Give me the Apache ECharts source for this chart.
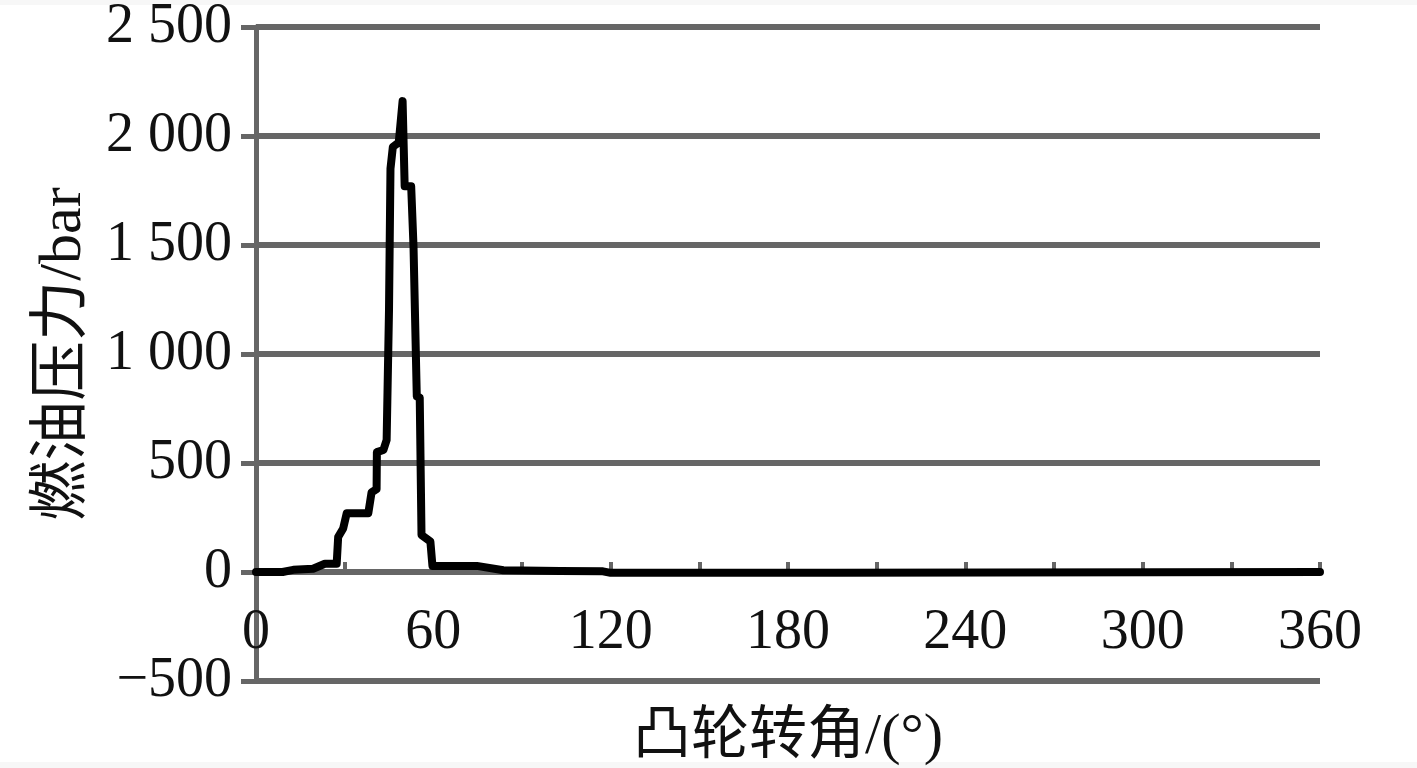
<!DOCTYPE html>
<html>
<head>
<meta charset="utf-8">
<script src="https://cdn.jsdelivr.net/npm/echarts@6/dist/echarts.min.js"></script>
<style>
html,body{margin:0;padding:0;background:#fff;}
#c{width:1417px;height:768px;}
</style>
</head>
<body>
<div id="c"></div>
<script>
// Cam angle (deg)
var camAngle = [0, 9, 12.6, 19.3, 23.3, 27.3, 27.8, 29.5, 30.7, 38.0, 39.1, 40.8, 40.9, 43.1, 44.2, 45.0, 45.5, 46.3, 48.3, 49.6, 50.3, 52.5, 53.3, 54.4, 55.4, 56.0, 57.5, 59.0, 59.7, 74.7, 83.7, 102.8, 117.4, 120, 196, 196.5, 360];
// Fuel pressure (bar)
var fuelPressure = [0, 0, 10, 15, 38, 38, 160, 200, 270, 270, 365, 380, 550, 560, 605, 1200, 1850, 1950, 1970, 2160, 1770, 1770, 1490, 805, 800, 170, 155, 140, 28, 28, 8, 5, 3, -4, -4, 0, 0];
var yTicks = {min: -500, max: 2500, step: 500};
var xTicks = {min: 0, max: 360, step: 30, labelStep: 60};
var xName = '凸轮转角/(°)';
var yName = '燃油压力/bar';

var data = camAngle.map(function (a, i) { return [a, fuelPressure[i]]; });
var serif = '"Liberation Serif", "Noto Sans CJK SC", serif';
var gray = '#666666';

function fmtY(v) {
  var neg = v < 0;
  var s = String(Math.abs(v));
  if (s.length > 3) s = s.slice(0, s.length - 3) + ' ' + s.slice(s.length - 3);
  return (neg ? '\u2212' : '') + s;
}

var chart = echarts.init(document.getElementById('c'));
chart.setOption({
  backgroundColor: '#ffffff',
  animation: false,
  graphic: [
    {type: 'rect', left: 0, top: 0, shape: {width: 1417, height: 5}, style: {fill: '#f7f7f7'}},
    {type: 'rect', left: 0, bottom: 0, shape: {width: 1417, height: 6}, style: {fill: '#f7f7f7'}}
  ],
  grid: {left: 256, right: 97, top: 27, bottom: 87, containLabel: false, outerBoundsMode: 'none'},
  xAxis: {
    type: 'value',
    min: xTicks.min, max: xTicks.max, interval: xTicks.step,
    name: xName,
    nameLocation: 'middle',
    nameGap: 28,
    nameMoveOverlap: false,
    nameTextStyle: {fontFamily: serif, fontSize: 58, color: '#111'},
    axisLine: {onZero: true, lineStyle: {color: gray, width: 5}},
    axisTick: {show: true, inside: true, length: 10, lineStyle: {color: gray, width: 4}},
    axisLabel: {
      margin: -76,
      fontFamily: serif, fontSize: 56, color: '#111',
      formatter: function (v) { return v % xTicks.labelStep === 0 ? String(v) : ''; }
    },
    splitLine: {show: false}
  },
  yAxis: {
    type: 'value',
    min: yTicks.min, max: yTicks.max, interval: yTicks.step,
    name: yName,
    nameLocation: 'middle',
    nameGap: 162,
    nameMoveOverlap: false,
    nameRotate: 90,
    nameTextStyle: {fontFamily: serif, fontSize: 60, color: '#111'},
    axisLine: {show: true, onZero: false, lineStyle: {color: gray, width: 5}},
    axisTick: {show: true, inside: false, length: 15, lineStyle: {color: gray, width: 5}},
    axisLabel: {margin: 24, fontFamily: serif, fontSize: 56, color: '#111', formatter: fmtY},
    splitLine: {show: true, lineStyle: {color: gray, width: 6}}
  },
  series: [{
    type: 'line',
    data: data,
    showSymbol: false,
    symbol: 'none',
    lineStyle: {color: '#000', width: 8, cap: 'round', join: 'round'},
    z: 5
  }]
});
</script>
</body>
</html>
